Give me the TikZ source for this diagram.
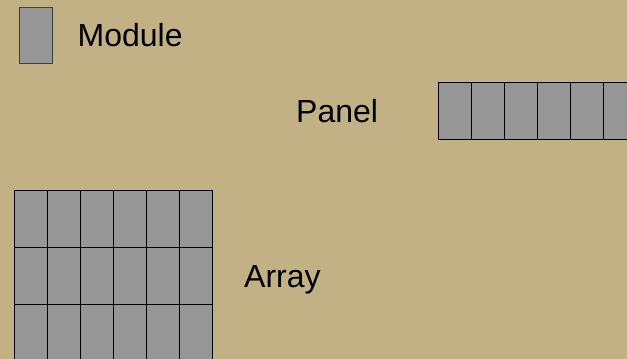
\documentclass[tikz,border=0pt]{standalone}
\usepackage{fontspec}
\setmainfont{Liberation Sans}
\definecolor{bgtan}{RGB}{195,177,134}
\definecolor{cellgray}{RGB}{150,150,150}
\tikzset{
  cell/.style={fill=cellgray, draw=black, line width=0.9pt},
  lbl/.style={font=\fontsize{32}{38}\selectfont, anchor=base west, inner sep=0pt, text=black}
}
\begin{document}
\begin{tikzpicture}[x=1pt,y=-1pt]
\useasboundingbox (0,0) rectangle (627,359);
\clip (0,0) rectangle (627,359);
\fill[bgtan] (0,0) rectangle (627,359);
% module
\draw[cell, draw=black!75] (19,7) rectangle (52,63);
\node[lbl] (module) at (77.5,46.5) {Module};
% panel
\foreach \i in {0,...,5} {
  \draw[cell] ({438+33*\i},82) rectangle ({471+33*\i},139);
}
\node[lbl] (panel) at (296,122) {Panel};
% array
\foreach \r in {0,1,2} {
  \foreach \i in {0,...,5} {
    \draw[cell] ({14+33*\i},{190+57*\r}) rectangle ({47+33*\i},{247+57*\r});
  }
}
\node[lbl] (array) at (244,287) {Array};
\end{tikzpicture}
\end{document}
